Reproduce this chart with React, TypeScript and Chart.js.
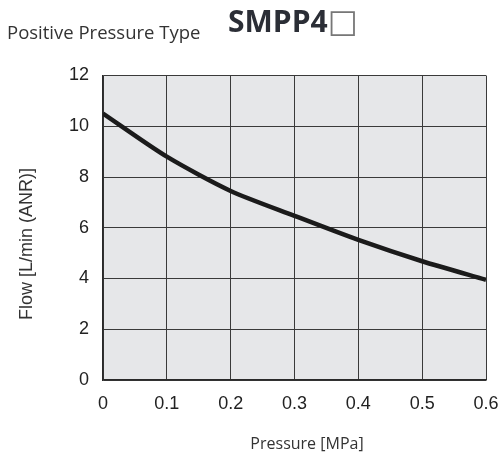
import React, { useEffect, useRef } from 'react';
import { Chart, registerables } from 'chart.js';

Chart.register(...registerables);

const pressure = [0, 0.1, 0.2, 0.3, 0.4, 0.5, 0.6];
const flow = [10.5, 8.8, 7.45, 6.47, 5.52, 4.68, 3.95];
const xTickLabels = ['0', '0.1', '0.2', '0.3', '0.4', '0.5', '0.6'];
const yTickLabels = ['0', '2', '4', '6', '8', '10', '12'];
const leftTitle = 'Positive Pressure Type';
const modelTitle = 'SMPP4';
const modelSuffix = '□';
const xTitle = 'Pressure [MPa]';
const yTitle = 'Flow [L/min (ANR)]';

const decor = {
  id: 'decor',
  beforeDraw(chart: any) {
    const { ctx, chartArea: a } = chart;
    ctx.save();
    ctx.fillStyle = '#e6e7e9';
    ctx.fillRect(a.left, a.top, a.right - a.left, a.bottom - a.top);
    ctx.restore();
  },
  afterDraw(chart: any) {
    const { ctx, chartArea: a } = chart;
    ctx.save();
    ctx.fillStyle = '#333333';
    ctx.font = '16px "Open Sans"';
    ctx.textAlign = 'center';
    ctx.textBaseline = 'alphabetic';
    ctx.fillText(xTitle, a.left + 204, 449);
    ctx.translate(27, 244);
    ctx.rotate(-Math.PI / 2);
    ctx.font = '18px "Liberation Sans"';
    ctx.textBaseline = 'middle';
    ctx.fillText(yTitle, 0, 0);
    ctx.restore();
  },
};

export default function App() {
  const ref = useRef<HTMLCanvasElement>(null);
  useEffect(() => {
    if (!ref.current) return;
    const chart = new Chart(ref.current, {
      type: 'line',
      data: {
        datasets: [
          {
            data: pressure.map((p, i) => ({ x: p, y: flow[i] })),
            borderColor: '#1b1b1b',
            borderWidth: 4.5,
            pointRadius: 0,
            tension: 0.25,
            fill: false,
          },
        ],
      },
      options: {
        animation: false,
        responsive: false,
        devicePixelRatio: 1,
        layout: { padding: { top: 75.5, right: 15, bottom: 0, left: 0 } },
        plugins: { legend: { display: false }, tooltip: { enabled: false }, title: { display: false } },
        scales: {
          x: {
            type: 'linear',
            min: 0,
            max: 0.6,
            afterFit: (s: any) => { s.height = 72; },
            grid: { color: '#3a3a3a', lineWidth: 1, drawTicks: true, tickLength: 13, tickColor: 'rgba(0,0,0,0)' },
            border: { display: true, color: '#2a2a2a', width: 1.5 },
            ticks: {
              stepSize: 0.1,
              padding: 0,
              color: '#222',
              font: { family: '"Liberation Sans"', size: 18 },
              maxRotation: 0,
              callback: (_v: any, i: number) => xTickLabels[i],
            },
          },
          y: {
            min: 0,
            max: 12,
            afterFit: (s: any) => { s.width = 103; },
            grid: { color: '#3a3a3a', lineWidth: 1, drawTicks: false },
            border: { display: true, color: '#2a2a2a', width: 1.5 },
            ticks: {
              stepSize: 2,
              padding: 14,
              color: '#222',
              font: { family: '"Liberation Sans"', size: 18 },
              callback: (_v: any, i: number) => yTickLabels[i],
            },
          },
        },
      },
      plugins: [decor],
    });
    return () => chart.destroy();
  }, []);

  return (
    <div style={{ position: 'absolute', left: 0, top: 0, width: 501, height: 452, background: '#fff' }}>
      <canvas ref={ref} width={501} height={452} style={{ display: 'block', width: 501, height: 452 }} />
      <div
        style={{
          position: 'absolute',
          left: 7,
          top: 19,
          fontFamily: '"Open Sans"',
          fontSize: 18.5,
          lineHeight: 'normal',
          color: '#333',
          whiteSpace: 'nowrap',
        }}
      >
        {leftTitle}
      </div>
      <div
        style={{
          position: 'absolute',
          left: 228,
          top: 0,
          fontFamily: '"Open Sans"',
          fontWeight: 700,
          fontSize: 30,
          lineHeight: 'normal',
          color: '#2b2e36',
          whiteSpace: 'nowrap',
        }}
      >
        {modelTitle}
        <span style={{ fontFamily: '"DejaVu Sans"', fontWeight: 400, color: '#777', fontSize: 32 }}>{modelSuffix}</span>
      </div>
    </div>
  );
}
